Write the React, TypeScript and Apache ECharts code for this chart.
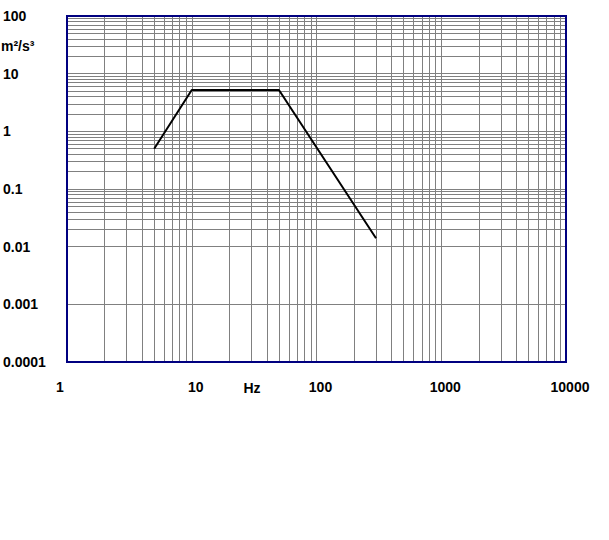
import React, { useEffect, useRef } from 'react';
import * as echarts from 'echarts';

const freqHz = [5, 10, 50, 300];
const asdValues = [0.5, 5.2, 5.2, 0.014];
const xTickValues = [1, 10, 100, 1000, 10000];
const xTickLabels = ['1', '10', '100', '1000', '10000'];
const yTickValues = [0.0001, 0.001, 0.01, 0.1, 1, 10, 100];
const yTickLabels = ['0.0001', '0.001', '0.01', '0.1', '1', '10', '100'];
const xUnit = 'Hz';
const yUnit = 'm²/s³';

const FONT = '"Liberation Sans", Arial, sans-serif';

function minorValues(lo: number, hi: number): number[] {
  const out: number[] = [];
  for (let e = lo; e < hi; e++) {
    for (let m = 2; m <= 9; m++) out.push(m * Math.pow(10, e));
  }
  return out;
}

function lookup(values: number[], labels: string[], v: number): string {
  const i = values.findIndex((t) => Math.abs(Math.log10(t) - Math.log10(v)) < 1e-6);
  return i >= 0 ? labels[i] : '';
}

export default function App() {
  const ref = useRef<HTMLDivElement>(null);
  useEffect(() => {
    if (!ref.current) return;
    const chart = echarts.init(ref.current, undefined, { renderer: 'svg' });
    const xMinor = minorValues(0, 4);
    const yMinor = minorValues(-4, 2);
    const data = freqHz.map((f, i) => [f, asdValues[i]]);
    const labelStyle = { fontFamily: FONT, fontWeight: 'bold' as const, fontSize: 14, color: '#000' };
    chart.setOption({
      animation: false,
      grid: {
        left: 65,
        top: 16,
        right: 43,
        bottom: 178,
        show: true,
        z: 10,
        borderColor: '#000080',
        borderWidth: 2,
        backgroundColor: 'transparent',
      },
      xAxis: {
        type: 'log',
        logBase: 10,
        min: 1,
        max: 10000,
        axisLine: { show: false },
        axisTick: { show: false },
        splitLine: { show: true, lineStyle: { color: '#808080', width: 1 } },
        axisLabel: {
          ...labelStyle,
          margin: 18,
          formatter: (v: number) => {
            const s = lookup(xTickValues, xTickLabels, v);
            return s === '1' ? `{l|${s}}` : `{r|${s}}`;
          },
          rich: {
            l: { ...labelStyle, padding: [0, 14, 0, 0] },
            r: { ...labelStyle, padding: [0, 0, 0, 8] },
          },
        },
      },
      yAxis: {
        type: 'log',
        logBase: 10,
        min: 0.0001,
        max: 100,
        axisLine: { show: false },
        axisTick: { show: false },
        splitLine: { show: true, lineStyle: { color: '#808080', width: 1 } },
        axisLabel: {
          ...labelStyle,
          align: 'left',
          margin: 64,
          formatter: (v: number) => lookup(yTickValues, yTickLabels, v),
        },
      },
      graphic: [
        {
          type: 'text',
          x: 252,
          y: 388,
          style: { text: xUnit, font: `bold 14px ${FONT}`, fill: '#000', align: 'center', verticalAlign: 'middle' },
        },
        {
          type: 'text',
          x: 1,
          y: 46,
          style: { text: yUnit, font: `bold 14px ${FONT}`, fill: '#000', align: 'left', verticalAlign: 'middle' },
        },
      ],
      series: [
        {
          type: 'line',
          z: 1,
          data,
          showSymbol: false,
          silent: true,
          lineStyle: { opacity: 0 },
          markLine: {
            silent: true,
            symbol: ['none', 'none'],
            label: { show: false },
            lineStyle: { color: '#808080', width: 1, type: 'solid' },
            emphasis: { disabled: true },
            data: [...xMinor.map((v) => ({ xAxis: v })), ...yMinor.map((v) => ({ yAxis: v }))],
          },
        },
        {
          type: 'line',
          z: 5,
          data,
          showSymbol: false,
          lineStyle: { color: '#000', width: 2 },
        },
      ],
    });
    return () => chart.dispose();
  }, []);
  return <div ref={ref} style={{ position: 'absolute', left: 0, top: 0, width: 609, height: 540 }} />;
}
